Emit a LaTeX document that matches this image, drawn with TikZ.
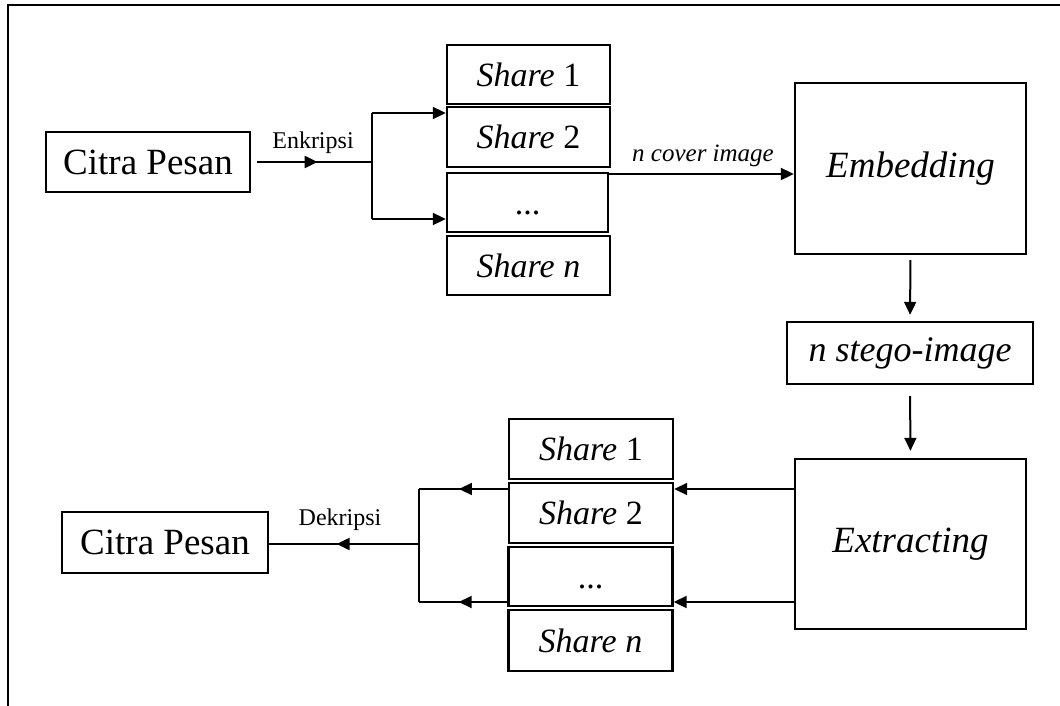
\documentclass[tikz,border=0pt]{standalone}
\usepackage{fontspec}
\setmainfont{Liberation Serif}
\usetikzlibrary{arrows.meta,decorations.markings,calc}
\begin{document}
\begin{tikzpicture}[x=1pt,y=-1pt,
  box/.style={draw, line width=2.4pt, inner sep=0pt, rectangle},
  sharebox/.style={box, minimum width=163pt, minimum height=59pt, font=\fontsize{34}{36}\selectfont},
  dotsbox/.style={sharebox, text height=0pt, text depth=0pt},
  bigbox/.style={box, minimum width=231pt, minimum height=171pt, font=\fontsize{37}{40}\selectfont\itshape},
  conn/.style={line width=2pt},
  arr/.style={conn, -{Triangle[length=13pt,width=12pt]}},
  midarrow/.style={conn, postaction={decorate}, decoration={markings, mark=at position 0.55 with {\arrow{Triangle[length=13pt,width=12pt]}}}},
  lbl/.style={inner sep=0pt, font=\fontsize{24}{26}\selectfont}
]
\useasboundingbox (0,0) rectangle (1060,706);
\fill[white] (0,0) rectangle (1060,706);
\draw[line width=2.4pt] (8,710) -- (8,5) -- (1064,5);

% top part
\node[box, minimum width=204pt, minimum height=60pt, font=\fontsize{37}{40}\selectfont] (cp1) at (148,162) {Citra Pesan};
\node[sharebox] (s1) at (528.5,74.5) {\textit{Share} 1};
\node[sharebox, minimum height=60pt] (s2) at (528.5,137) {\textit{Share} 2};
\node[dotsbox, minimum width=161pt] (sd) at (527.5,202.5) {\raisebox{-12pt}{...}};
\node[sharebox] (sn) at (528.5,265.5) {\textit{Share n}};
\node[bigbox] (emb) at (910.5,168.5) {Embedding};
\node[box, minimum width=246pt, minimum height=62pt, font=\fontsize{36}{38}\selectfont\itshape] (stego) at (910,353) {n stego-image};
\node[bigbox, minimum height=170pt] (ext) at (910.5,544) {Extracting};

% bottom part
\node[box, minimum width=206pt, minimum height=61pt, font=\fontsize{37}{40}\selectfont] (cp2) at (165,542.5) {Citra Pesan};
\node[sharebox, minimum width=164pt, minimum height=60pt] (b1) at (591,449) {\textit{Share} 1};
\node[sharebox, minimum width=164pt, minimum height=60pt] (b2) at (591,513) {\textit{Share} 2};
\node[dotsbox, minimum width=164pt] (bd) at (590.5,576.5) {\raisebox{-12pt}{...}};
\node[sharebox, minimum width=164pt, minimum height=61pt] (bn) at (590.5,640.5) {\textit{Share n}};

% encryption split
\coordinate (ej) at (372,162);
\coordinate (e1) at (372,113);
\coordinate (e2) at (372,219);
\draw[midarrow, shorten <=6pt] (cp1.east) -- (ej);
\node[lbl, anchor=base] (enk) at (313,149) {Enkripsi};
\draw[conn] (e1) -- (e2);
\draw[arr] (e1) -- (e1 -| s2.west);
\draw[arr] (e2) -- (e2 -| sd.west);

% cover image
\coordinate (c0) at (608,174);
\draw[arr] (c0) -- (c0 -| emb.west);
\node[lbl, font=\fontsize{25}{27}\selectfont\itshape, anchor=base] (cov) at (703,161) {n cover image};

% vertical flow
\draw[arr, shorten <=5pt, shorten >=6pt] (emb.south) -- (stego.north);
\draw[arr, shorten <=11pt, shorten >=7pt] (stego.south) -- (ext.north);

% extraction
\coordinate (x1) at (795,489);
\coordinate (x2) at (795,602);
\draw[arr] (x1) -- (x1 -| b2.east);
\draw[arr] (x2) -- (x2 -| bd.east);

% decryption merge
\coordinate (d1) at (419,489);
\coordinate (d2) at (419,602);
\coordinate (dj) at (419,544);
\draw[midarrow] (d1 -| b2.west) -- (d1);
\draw[midarrow] (d2 -| bd.west) -- (d2);
\draw[conn] (d1) -- (d2);
\draw[midarrow] (dj) -- (dj -| cp2.east);
\node[lbl, anchor=base] (dek) at (340,525) {Dekripsi};
\end{tikzpicture}
\end{document}
